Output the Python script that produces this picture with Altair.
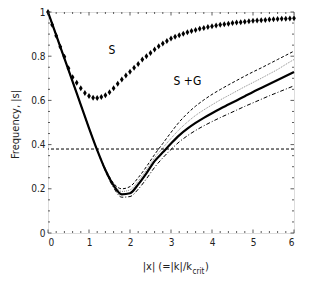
import altair as alt
import pandas as pd

# ---------------- data ----------------
x_lines = [0.0, 0.2, 0.4, 0.6, 0.8, 1.0, 1.2, 1.4, 1.6, 1.8, 2.0, 2.2, 2.4, 2.6, 2.8, 3.0,
           3.2, 3.4, 3.6, 3.8, 4.0, 4.2, 4.4, 4.6, 4.8, 5.0, 5.2, 5.4, 5.6, 5.8, 6.0]

sg_solid = [1.0, 0.895, 0.79, 0.685, 0.58, 0.475, 0.375, 0.285, 0.215, 0.175, 0.18, 0.22,
            0.27, 0.325, 0.365, 0.405, 0.442, 0.472, 0.498, 0.521, 0.542, 0.562, 0.581,
            0.60, 0.619, 0.638, 0.656, 0.674, 0.692, 0.71, 0.728]
sg_upper = [1.0, 0.895, 0.79, 0.685, 0.58, 0.475, 0.375, 0.29, 0.225, 0.20, 0.21, 0.25,
            0.30, 0.355, 0.405, 0.455, 0.502, 0.541, 0.574, 0.602, 0.627, 0.649, 0.67,
            0.69, 0.71, 0.729, 0.747, 0.766, 0.785, 0.804, 0.823]
sg_dotted = [1.0, 0.895, 0.79, 0.685, 0.58, 0.475, 0.375, 0.287, 0.22, 0.188, 0.195, 0.235,
             0.285, 0.34, 0.385, 0.428, 0.468, 0.502, 0.532, 0.557, 0.58, 0.602, 0.622,
             0.642, 0.662, 0.681, 0.70, 0.72, 0.74, 0.763, 0.785]
sg_lower = [1.0, 0.895, 0.79, 0.685, 0.58, 0.475, 0.375, 0.28, 0.205, 0.162, 0.165, 0.198,
            0.245, 0.297, 0.34, 0.378, 0.412, 0.44, 0.464, 0.485, 0.504, 0.522, 0.539,
            0.556, 0.573, 0.589, 0.605, 0.621, 0.636, 0.651, 0.666]

x_s = [round(i * 0.1, 1) for i in range(61)]
s_vals = [1.0, 0.942, 0.893, 0.843, 0.797, 0.745, 0.705, 0.68, 0.655, 0.633,
          0.62, 0.612, 0.611, 0.615, 0.623, 0.637, 0.655, 0.675, 0.695, 0.713,
          0.73, 0.748, 0.765, 0.785, 0.80, 0.815, 0.83, 0.845, 0.858, 0.869,
          0.88, 0.888, 0.895, 0.902, 0.908, 0.914, 0.919, 0.924, 0.928, 0.932,
          0.936, 0.939, 0.942, 0.945, 0.947, 0.95, 0.952, 0.954, 0.956, 0.958,
          0.96, 0.961, 0.963, 0.964, 0.966, 0.967, 0.968, 0.969, 0.97, 0.971, 0.972]

threshold = [0.38]

x_tick_labels = [0, 1, 2, 3, 4, 5, 6]
y_tick_labels = [0, 0.2, 0.4, 0.6, 0.8, 1]
x_minor = [round(i * 0.2, 1) for i in range(31)]
y_minor = [round(i * 0.05, 2) for i in range(21)]

# ---------------- chart ----------------
W, H = 246, 221
FONT = "Liberation Sans Narrow, DejaVu Sans Condensed, Liberation Sans"
TXT = "#222222"

xs = alt.Scale(domain=[0, 6], nice=False, zero=False)
ys = alt.Scale(domain=[0, 1], nice=False, zero=False)

x_axis = alt.Axis(values=x_tick_labels, format="~g", ticks=False, domain=False, grid=False,
                  title=None, labelPadding=4, labelFontSize=10, labelFont=FONT,
                  labelColor=TXT)
y_axis = alt.Axis(values=y_tick_labels, format="~g", ticks=False, domain=False, grid=False,
                  title="Frequency, |s|", titleFont=FONT, titleFontSize=11,
                  titleFontWeight="normal", titleColor=TXT, titleX=-33, titleY=112,
                  titleAngle=270, titleAlign="center", titleBaseline="middle",
                  labelPadding=3, labelFontSize=10, labelFont=FONT, labelColor=TXT)

def line(vals, **kw):
    df = pd.DataFrame({"x": x_lines, "y": vals})
    return alt.Chart(df).mark_line(interpolate="monotone", **kw).encode(
        x=alt.X("x:Q", scale=xs, axis=x_axis),
        y=alt.Y("y:Q", scale=ys, axis=y_axis),
    )

l_upper = line(sg_upper, color="black", strokeWidth=1, strokeDash=[3, 2])
l_dotted = line(sg_dotted, color="#8a8a8a", strokeWidth=1, strokeDash=[1, 1])
l_lower = line(sg_lower, color="black", strokeWidth=1, strokeDash=[4, 2, 1, 2])
l_solid = line(sg_solid, color="black", strokeWidth=2.2)

s_df = pd.DataFrame({"x": x_s, "y": s_vals})
diamonds = alt.Chart(s_df).mark_point(
    shape="M0,-1L0.62,0L0,1L-0.62,0Z", filled=True, color="black", size=36, opacity=1
).encode(x=alt.X("x:Q", scale=xs), y=alt.Y("y:Q", scale=ys))

hline = alt.Chart(pd.DataFrame({"y": threshold})).mark_rule(
    color="black", strokeWidth=1, strokeDash=[3, 2]
).encode(y=alt.Y("y:Q", scale=ys))

# inward ticks on all four sides
xmaj = pd.DataFrame({"v": [v for v in x_minor if abs(v - round(v)) < 1e-9]})
xmin = pd.DataFrame({"v": [v for v in x_minor if abs(v - round(v)) > 1e-9]})
ymaj = pd.DataFrame({"v": [v for v in y_minor if abs(v * 5 - round(v * 5)) < 1e-9]})
ymin = pd.DataFrame({"v": [v for v in y_minor if abs(v * 5 - round(v * 5)) > 1e-9]})

tick_style = dict(color="#333333", strokeWidth=0.8)

def xticks(df, ln):
    b = alt.Chart(df).mark_rule(**tick_style).encode(
        x=alt.X("v:Q", scale=xs), y=alt.value(H), y2=alt.value(H - ln))
    t = alt.Chart(df).mark_rule(**tick_style).encode(
        x=alt.X("v:Q", scale=xs), y=alt.value(0), y2=alt.value(ln))
    return b + t

def yticks(df, ln):
    l = alt.Chart(df).mark_rule(**tick_style).encode(
        y=alt.Y("v:Q", scale=ys), x=alt.value(0), x2=alt.value(ln))
    r = alt.Chart(df).mark_rule(**tick_style).encode(
        y=alt.Y("v:Q", scale=ys), x=alt.value(W), x2=alt.value(W - ln))
    return l + r

ticks = xticks(xmaj, 3.5) + xticks(xmin, 2) + yticks(ymaj, 3.5) + yticks(ymin, 2)

labels_df = pd.DataFrame({"x": [1.56, 3.40], "y": [0.827, 0.687], "t": ["S", "S +G"]})
labels = alt.Chart(labels_df).mark_text(
    font=FONT, fontSize=12, color="black", align="center", baseline="middle"
).encode(x=alt.X("x:Q", scale=xs), y=alt.Y("y:Q", scale=ys), text="t:N")

# x title with subscript
xt_main = alt.Chart(pd.DataFrame({"t": ["|x| (=|k|/k"]})).mark_text(
    font=FONT, fontSize=11, color=TXT, align="right", baseline="middle"
).encode(x=alt.value(144), y=alt.value(H + 34), text="t:N")
xt_sub = alt.Chart(pd.DataFrame({"t": ["crit"]})).mark_text(
    font=FONT, fontSize=8, color=TXT, align="left", baseline="middle"
).encode(x=alt.value(144.5), y=alt.value(H + 39), text="t:N")
xt_end = alt.Chart(pd.DataFrame({"t": [")"]})).mark_text(
    font=FONT, fontSize=11, color=TXT, align="left", baseline="middle"
).encode(x=alt.value(157), y=alt.value(H + 34), text="t:N")

chart = alt.layer(
    l_upper, l_dotted, l_lower, l_solid, hline, diamonds, ticks, labels,
    xt_main, xt_sub, xt_end
).properties(
    width=W, height=H,
    autosize=alt.AutoSizeParams(type="none"),
    padding={"left": 40, "top": 4, "right": 10, "bottom": 50},
).configure_view(stroke="black", strokeWidth=1).configure(background="white")

chart.save("out.html", embed_options={"renderer": "svg", "actions": False})
